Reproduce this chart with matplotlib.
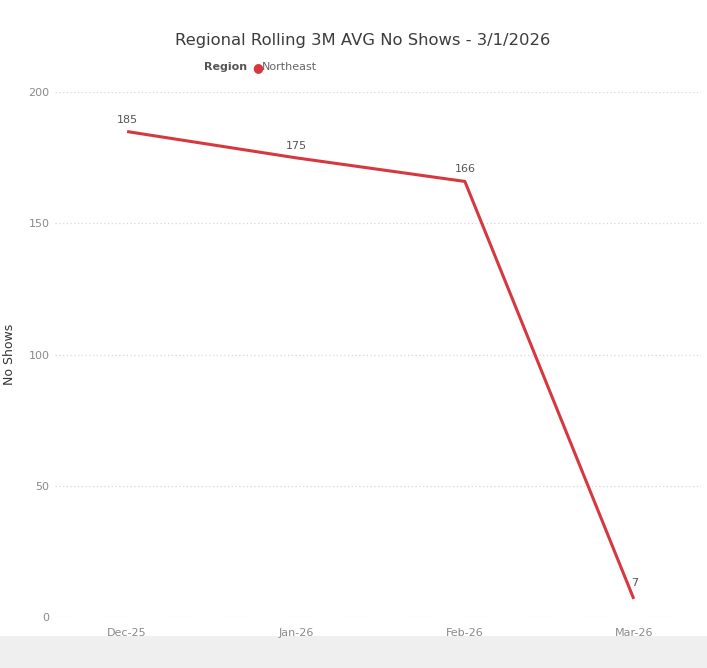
import matplotlib.pyplot as plt
from matplotlib.patches import Rectangle

# Rolling 3 month average no shows, Northeast region
months = ["Dec-25", "Jan-26", "Feb-26", "Mar-26"]
no_shows = [185, 175, 166, 7]
yticks = [0, 50, 100, 150, 200]

red = "#d7383f"
grey = "#8a8a8a"

fig = plt.figure(figsize=(7.07, 6.68), dpi=100)
ax = fig.add_axes([0.078, 0.076, 0.913, 0.786])

x = list(range(len(months)))
ax.plot(x, no_shows, color=red, linewidth=2.2, solid_capstyle="butt", clip_on=False)

# data labels
for i, v in enumerate(no_shows):
    if i == len(no_shows) - 1:
        ax.annotate(str(v), (i, v), xytext=(1, 8), textcoords="offset points",
                    ha="center", va="bottom", fontsize=8, color="#555555")
    else:
        ax.annotate(str(v), (i, v), xytext=(0, 5), textcoords="offset points",
                    ha="center", va="bottom", fontsize=8, color="#555555")

ax.set_xlim(-0.426, 3.396)
ax.set_ylim(0, 200)
ax.set_xticks(x)
ax.set_xticklabels(months)
ax.set_yticks(yticks)
ax.tick_params(length=0, labelsize=8, labelcolor=grey, pad=8)
ax.tick_params(axis="y", pad=4)
ax.grid(axis="y", color="#d9d9d9", linestyle=(0, (1, 2)), linewidth=0.9)
ax.set_axisbelow(True)
for s in ax.spines.values():
    s.set_visible(False)

ax.set_ylabel("No Shows", fontsize=9, color="#333333")
ax.yaxis.set_label_coords(-0.06, 0.5)

fig.text(0.513, 0.94, "Regional Rolling 3M AVG No Shows - 3/1/2026",
         ha="center", va="center", fontsize=11.8, color="#3c3c3c")
fig.text(0.349, 0.899, "Region", ha="right", va="center", fontsize=8,
         fontweight="bold", color="#555555")
fig.text(0.364, 0.899, "\u25cf", ha="center", va="center", fontsize=9, color=red)
fig.text(0.371, 0.899, "Northeast", ha="left", va="center", fontsize=8, color="#666666")

# grey band at the bottom of the visual
fig.patches.append(Rectangle((0, 0), 1, 0.048, transform=fig.transFigure,
                             facecolor="#efefef", edgecolor="none", zorder=-1))

fig.savefig("out.png", dpi=100)
